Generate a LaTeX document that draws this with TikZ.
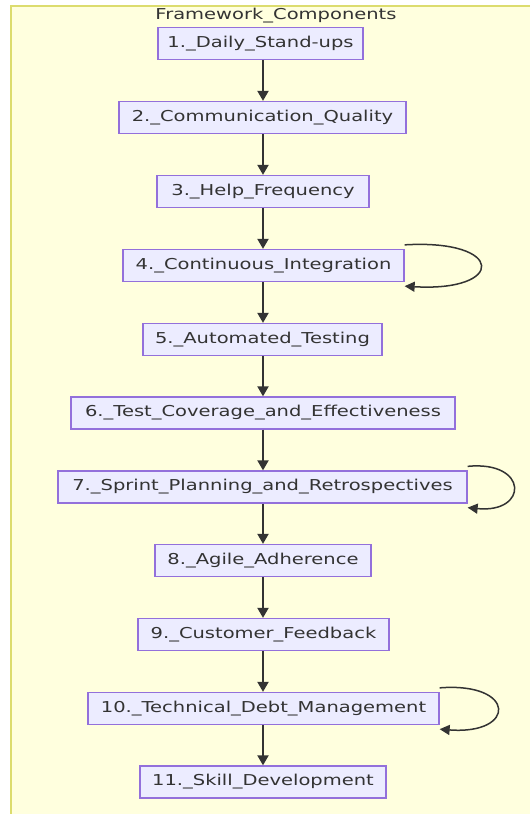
\documentclass[tikz,border=0pt]{standalone}
\usepackage{fontspec}
\setmainfont[FakeStretch=1.3]{DejaVu Sans}
\usetikzlibrary{arrows.meta}
\definecolor{clfill}{HTML}{FFFFDE}
\definecolor{clline}{HTML}{DCDC6E}
\definecolor{bfill}{HTML}{ECECFF}
\definecolor{bline}{HTML}{9370DB}
\definecolor{txt}{HTML}{333333}
\tikzset{
  box/.style={draw=bline, fill=bfill, line width=1.3pt, minimum height=32pt, inner sep=0pt,
    text=txt, font=\fontsize{15pt}{18pt}\selectfont},
  arr/.style={draw=txt, line width=2pt, -{Triangle[width=11pt,length=10pt]}},
  loop/.style={draw=txt, line width=1.5pt, -{Triangle[width=10pt,length=10pt]}}
}
\begin{document}
\begin{tikzpicture}[x=1pt,y=-1pt]
\useasboundingbox (0,0) rectangle (530,814);
\clip (0,0) rectangle (530,814);
\fill[white] (0,0) rectangle (530,814);
\draw[fill=clfill, draw=clline, line width=1.5pt] (11,6) rectangle (560,840);
\node[text=txt, font=\fontsize{15pt}{18pt}\selectfont] (title) at (276,16) {Framework\_Components};
\node[box, minimum width=205pt] (n1) at (260.5,43.5) {1.\_Daily\_Stand-ups};
\node[box, minimum width=287pt] (n2) at (262.5,117.5) {2.\_Communication\_Quality};
\node[box, minimum width=212pt] (n3) at (263,191.5) {3.\_Help\_Frequency};
\node[box, minimum width=281pt] (n4) at (263.5,265.5) {4.\_Continuous\_Integration};
\node[box, minimum width=239pt] (n5) at (262.5,339.5) {5.\_Automated\_Testing};
\node[box, minimum width=384pt] (n6) at (263,413) {6.\_Test\_Coverage\_and\_Effectiveness};
\node[box, minimum width=409pt] (n7) at (262.5,487) {7.\_Sprint\_Planning\_and\_Retrospectives};
\node[box, minimum width=216pt] (n8) at (263,560.5) {8.\_Agile\_Adherence};
\node[box, minimum width=251pt] (n9) at (263.5,634.5) {9.\_Customer\_Feedback};
\node[box, minimum width=351pt] (n10) at (263.5,708.5) {10.\_Technical\_Debt\_Management};
\node[box, minimum width=246pt] (n11) at (263,782) {11.\_Skill\_Development};
\foreach \a/\b in {n1/n2,n2/n3,n3/n4,n4/n5,n5/n6,n6/n7,n7/n8,n8/n9,n9/n10,n10/n11}
  \draw[arr] (\a.south -| 263,0) -- (\b.north -| 263,0);
\draw[loop] ([yshift=4pt]n4.north east) .. controls +(101,-6) and +(101,6) .. ([yshift=-4pt]n4.south east);
\draw[loop] ([yshift=4pt]n7.north east) .. controls +(61,-6) and +(61,6) .. ([yshift=-4pt]n7.south east);
\draw[loop] ([yshift=4pt]n10.north east) .. controls +(77,-6) and +(77,6) .. ([yshift=-4pt]n10.south east);
\end{tikzpicture}
\end{document}
